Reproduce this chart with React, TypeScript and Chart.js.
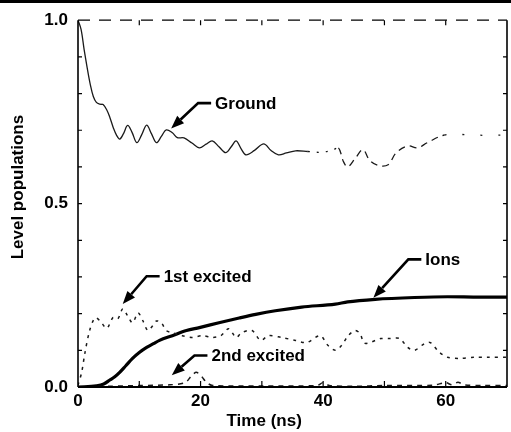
import React, { useEffect, useRef } from "react";
import { Chart, registerables } from "chart.js";

Chart.register(...registerables);

// ---- Level population curves (time in ns, fractional population) ----
const groundT = [0, 0.5, 1.0, 1.5, 2.0, 2.5, 3.0, 3.6, 4.1, 4.7, 5.2, 5.8, 6.3, 6.8, 7.4, 8.1, 8.8, 9.6, 10.4, 11.2, 12.0, 12.8, 13.6, 14.4, 15.4, 16.2, 17.3, 18.6, 19.8, 20.9, 21.9, 23.0, 24.1, 25.0, 25.8, 26.6, 27.4, 28.8, 30.3, 31.5, 32.7, 34.0, 35.5, 37.5, 39.5, 41.5, 42.5, 43.3, 44.0, 45.3, 46.5, 47.6, 49.0, 50.6, 51.9, 53.8, 55.4, 57.0, 59.8, 63.5, 66.5, 70.0];
const groundV = [1.0, 0.975, 0.92, 0.87, 0.825, 0.792, 0.776, 0.771, 0.77, 0.755, 0.735, 0.705, 0.686, 0.676, 0.69, 0.713, 0.695, 0.666, 0.688, 0.714, 0.69, 0.666, 0.683, 0.701, 0.693, 0.68, 0.679, 0.665, 0.652, 0.662, 0.671, 0.655, 0.639, 0.655, 0.671, 0.65, 0.633, 0.645, 0.663, 0.645, 0.633, 0.638, 0.644, 0.642, 0.64, 0.645, 0.652, 0.615, 0.6, 0.625, 0.647, 0.618, 0.604, 0.606, 0.638, 0.657, 0.652, 0.666, 0.687, 0.688, 0.686, 0.687];

const firstT = [0, 0.6, 1.1, 1.9, 2.8, 3.6, 4.7, 5.7, 6.5, 7.3, 8.1, 8.9, 9.8, 10.6, 11.4, 12.2, 12.8, 13.6, 14.4, 15.4, 17.0, 18.6, 20.3, 21.9, 23.3, 24.6, 25.8, 26.7, 28.4, 29.8, 31.1, 33.2, 35.5, 37.3, 39.5, 40.8, 42.0, 43.0, 44.1, 45.2, 46.0, 46.8, 49.4, 50.9, 52.5, 53.8, 54.9, 56.6, 57.5, 59.0, 60.3, 62.2, 64.7, 66.8, 70.0];
const firstV = [0.005, 0.04, 0.09, 0.154, 0.189, 0.18, 0.16, 0.189, 0.186, 0.213, 0.194, 0.175, 0.202, 0.18, 0.154, 0.167, 0.18, 0.175, 0.154, 0.148, 0.14, 0.135, 0.14, 0.135, 0.14, 0.159, 0.135, 0.148, 0.154, 0.127, 0.14, 0.135, 0.127, 0.121, 0.14, 0.113, 0.1, 0.113, 0.14, 0.154, 0.146, 0.119, 0.132, 0.132, 0.132, 0.108, 0.1, 0.119, 0.121, 0.094, 0.081, 0.078, 0.081, 0.081, 0.081];

const secondT = [0, 5, 10, 15, 17.5, 18.5, 19.3, 20.1, 21, 22, 30, 39, 40, 41, 45, 50, 58, 60, 61, 62, 63, 66, 70];
const secondV = [0, 0.002, 0.004, 0.006, 0.012, 0.03, 0.04, 0.03, 0.012, 0.004, 0.003, 0.004, 0.012, 0.004, 0.002, 0.004, 0.005, 0.012, 0.006, 0.013, 0.006, 0.004, 0.004];

const ionsT = [0, 3.0, 4.2, 5.2, 6.0, 6.8, 7.8, 8.9, 10.0, 11.2, 12.3, 13.3, 15.4, 17.7, 19.8, 23.0, 26.3, 29.0, 32.2, 36.5, 42.0, 44.0, 48.5, 54.9, 60.3, 65.6, 70.0];
const ionsV = [0, 0.003, 0.008, 0.019, 0.028, 0.04, 0.058, 0.078, 0.094, 0.108, 0.118, 0.127, 0.14, 0.154, 0.162, 0.175, 0.188, 0.198, 0.208, 0.218, 0.226, 0.232, 0.239, 0.244, 0.246, 0.245, 0.245];

// ---- Axis labelling ----
const xTickLabels = [0, 20, 40, 60];
const yTickLabels = [0, 0.5, 1.0];
const xMinorTicks = [10, 20, 30, 40, 50, 60];
const yMinorTicks = [0.1, 0.2, 0.3, 0.4, 0.5, 0.6, 0.7, 0.8, 0.9];

// Callout labels: arrow tip and elbow given in data coordinates
const callouts = [
  { text: "Ground", tip: [15.2, 0.705], elbow: [19.6, 0.774] },
  { text: "1st excited", tip: [7.3, 0.226], elbow: [11.2, 0.302] },
  { text: "2nd excited", tip: [15.3, 0.032], elbow: [19.0, 0.086] },
  { text: "Ions", tip: [48.2, 0.243], elbow: [53.9, 0.348] },
];

const FONT = '"Liberation Sans", Arial, Helvetica, sans-serif';

const toPoints = (ts: number[], vs: number[]) => ts.map((t, i) => ({ x: t, y: vs[i] }));

const framePlugin = {
  id: "frameAndCallouts",
  afterDatasetsDraw(chart: any) {
    const ctx = chart.ctx as CanvasRenderingContext2D;
    const xs = chart.scales.x;
    const ys = chart.scales.y;
    const { left, right, top, bottom } = chart.chartArea;
    ctx.save();
    ctx.strokeStyle = "#000";
    ctx.fillStyle = "#000";
    ctx.lineCap = "butt";

    // heavy rule along the top of the sheet
    ctx.fillRect(0, 0, chart.width, 3);

    // axes
    ctx.lineWidth = 1.6;
    ctx.beginPath();
    ctx.moveTo(left, top);
    ctx.lineTo(left, bottom);
    ctx.stroke();
    ctx.lineWidth = 2;
    ctx.beginPath();
    ctx.moveTo(left, bottom);
    ctx.lineTo(right, bottom);
    ctx.stroke();
    ctx.lineWidth = 1.6;
    ctx.beginPath();
    ctx.moveTo(right, top);
    ctx.lineTo(right, bottom);
    ctx.stroke();
    ctx.lineWidth = 1.2;
    ctx.setLineDash([12, 9]);
    ctx.beginPath();
    ctx.moveTo(left, top);
    ctx.lineTo(right, top);
    ctx.stroke();
    ctx.setLineDash([]);

    // inward tick marks
    ctx.lineWidth = 1.2;
    for (const t of xMinorTicks) {
      const px = xs.getPixelForValue(t);
      ctx.beginPath();
      ctx.moveTo(px, bottom);
      ctx.lineTo(px, bottom - 6);
      ctx.moveTo(px, top);
      ctx.lineTo(px, top + 5);
      ctx.stroke();
    }
    for (const v of yMinorTicks) {
      const py = ys.getPixelForValue(v);
      ctx.beginPath();
      ctx.moveTo(left, py);
      ctx.lineTo(left + 4, py);
      ctx.moveTo(right, py);
      ctx.lineTo(right - 4, py);
      ctx.stroke();
    }

    // callouts with arrows
    ctx.font = `bold 17px ${FONT}`;
    ctx.textBaseline = "middle";
    ctx.textAlign = "left";
    for (const c of callouts) {
      const tx = xs.getPixelForValue(c.tip[0]);
      const ty = ys.getPixelForValue(c.tip[1]);
      const ex = xs.getPixelForValue(c.elbow[0]);
      const ey = ys.getPixelForValue(c.elbow[1]);
      const ang = Math.atan2(ty - ey, tx - ex);
      const headLen = 13;
      const headHalf = 5;
      const bx = tx - headLen * Math.cos(ang);
      const by = ty - headLen * Math.sin(ang);
      ctx.lineWidth = 2.6;
      ctx.beginPath();
      ctx.moveTo(ex + 13, ey);
      ctx.lineTo(ex, ey);
      ctx.lineTo(bx, by);
      ctx.stroke();
      ctx.beginPath();
      ctx.moveTo(tx, ty);
      ctx.lineTo(bx + headHalf * Math.sin(ang), by - headHalf * Math.cos(ang));
      ctx.lineTo(bx - headHalf * Math.sin(ang), by + headHalf * Math.cos(ang));
      ctx.closePath();
      ctx.fill();
      ctx.fillText(c.text, ex + 17, ey + 1);
    }
    ctx.restore();
  },
};

function groundDash(ctx: any) {
  const t = ctx.p0.parsed.x;
  if (t >= 58) return [2, 16];
  if (t >= 42) return [7, 5];
  if (t >= 36) return [2, 7];
  return undefined;
}

export default function App() {
  const canvasRef = useRef<HTMLCanvasElement | null>(null);

  useEffect(() => {
    if (!canvasRef.current) return;
    const chart = new Chart(canvasRef.current, {
      type: "line",
      data: {
        datasets: [
          {
            label: "Ground",
            data: toPoints(groundT, groundV),
            borderColor: "#1a1a1a",
            borderWidth: 1.3,
            tension: 0.35,
            segment: { borderDash: groundDash },
          },
          {
            label: "1st excited",
            data: toPoints(firstT, firstV),
            borderColor: "#1a1a1a",
            borderWidth: 1.5,
            borderDash: [3, 5],
            tension: 0.3,
          },
          {
            label: "2nd excited",
            data: toPoints(secondT, secondV),
            borderColor: "#1a1a1a",
            borderWidth: 1.5,
            borderDash: [5, 5],
            tension: 0.3,
          },
          {
            label: "Ions",
            data: toPoints(ionsT, ionsV),
            borderColor: "#000",
            borderWidth: 3.2,
            cubicInterpolationMode: "monotone",
          },
        ],
      },
      options: {
        animation: false,
        responsive: false,
        devicePixelRatio: 1,
        layout: { padding: { top: 16, right: 2, left: 0, bottom: 0 } },
        elements: { point: { radius: 0 } },
        plugins: { legend: { display: false }, tooltip: { enabled: false } },
        scales: {
          x: {
            type: "linear",
            min: 0,
            max: 70,
            grid: { display: false, drawTicks: false },
            border: { display: false },
            afterFit: (s: any) => {
              s.height = 45;
            },
            ticks: {
              stepSize: 10,
              autoSkip: false,
              maxRotation: 0,
              padding: 4,
              color: "#000",
              font: { family: FONT, size: 17, weight: "bold" },
              callback: (v: any) => (xTickLabels.includes(Number(v)) ? String(v) : ""),
            },
            title: {
              display: true,
              text: "Time (ns)" + " ".repeat(12),
              color: "#000",
              font: { family: FONT, size: 17, weight: "bold" },
              padding: { top: 0, bottom: 0 },
            },
          },
          y: {
            type: "linear",
            min: 0,
            max: 1,
            grid: { display: false, drawTicks: false },
            border: { display: false },
            afterFit: (s: any) => {
              s.width = 78;
            },
            ticks: {
              stepSize: 0.1,
              autoSkip: false,
              padding: 10,
              color: "#000",
              font: { family: FONT, size: 17, weight: "bold" },
              callback: (v: any) => {
                const r = Math.round(Number(v) * 10) / 10;
                return yTickLabels.includes(r) ? r.toFixed(1) : "";
              },
            },
            title: {
              display: true,
              text: " ".repeat(7) + "Level populations",
              color: "#000",
              font: { family: FONT, size: 17, weight: "bold" },
              padding: { top: 8, bottom: 0 },
            },
          },
        },
      },
      plugins: [framePlugin],
    });
    return () => chart.destroy();
  }, []);

  return (
    <div style={{ position: "fixed", left: 0, top: 0, width: 511, height: 432, background: "#fff" }}>
      <canvas ref={canvasRef} width={511} height={432} style={{ display: "block" }} />
    </div>
  );
}
